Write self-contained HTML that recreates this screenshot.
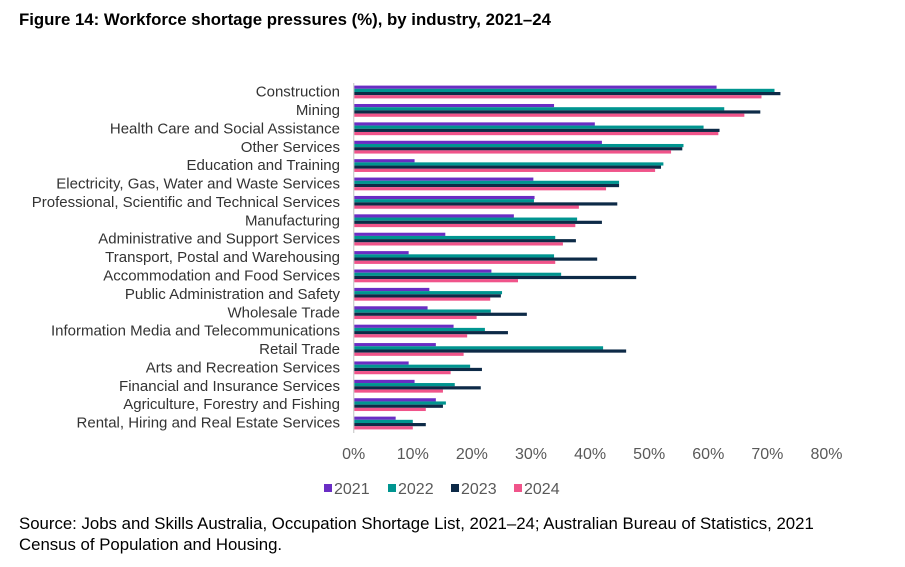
<!DOCTYPE html>
<html><head><meta charset="utf-8">
<style>
body{margin:0;background:#fff;font-family:"Liberation Sans",Arial,sans-serif;}
#wrap{position:relative;width:905px;height:567px;overflow:hidden;}
.title{position:absolute;left:19px;top:10px;font-size:16.8px;font-weight:bold;color:#000;}
.src{position:absolute;left:19px;top:513px;font-size:16.8px;line-height:21px;color:#000;}
</style></head><body>
<div id="wrap">
<div class="title">Figure 14: Workforce shortage pressures (%), by industry, 2021–24</div>
<svg id="chart" width="905" height="567" style="position:absolute;left:0;top:0"></svg>
<div class="src">Source: Jobs and Skills Australia, Occupation Shortage List, 2021–24; Australian Bureau of Statistics, 2021<br>Census of Population and Housing.</div>
</div>
<script>
const categories=["Construction","Mining","Health Care and Social Assistance","Other Services","Education and Training","Electricity, Gas, Water and Waste Services","Professional, Scientific and Technical Services","Manufacturing","Administrative and Support Services","Transport, Postal and Warehousing","Accommodation and Food Services","Public Administration and Safety","Wholesale Trade","Information Media and Telecommunications","Retail Trade","Arts and Recreation Services","Financial and Insurance Services","Agriculture, Forestry and Fishing","Rental, Hiring and Real Estate Services"];
const s2021=[61.4,33.9,40.8,42.0,10.3,30.4,30.6,27.1,15.5,9.3,23.3,12.8,12.5,16.9,13.9,9.3,10.3,13.9,7.1];
const s2022=[71.2,62.7,59.2,55.8,52.4,44.9,30.5,37.8,34.1,33.9,35.1,25.1,23.2,22.2,42.2,19.7,17.1,15.6,10.0];
const s2023=[72.2,68.8,61.9,55.6,52.0,44.9,44.6,42.0,37.6,41.2,47.8,24.9,29.3,26.1,46.1,21.7,21.5,15.1,12.2];
const s2024=[69.0,66.1,61.7,53.7,51.0,42.7,38.1,37.5,35.4,34.1,27.8,23.1,20.8,19.2,18.6,16.4,15.1,12.2,10.0];
const seriesNames=["2021","2022","2023","2024"];
const tickValues=[0,10,20,30,40,50,60,70,80];
const colors=["#6a2dc4","#009590","#0d2a47","#f0548a"];
const series=[s2021,s2022,s2023,s2024];
const NS="http://www.w3.org/2000/svg";
const svg=document.getElementById('chart');
const x0=353.7,pxPer=5.91;
const xScale=v=>x0+v*pxPer;
const gTop=85.6,gPitch=18.39,barH=3.2;
const yGroup=i=>gTop+i*gPitch;
function mk(t,a){const e=document.createElementNS(NS,t);for(const k in a)e.setAttribute(k,a[k]);svg.appendChild(e);return e;}
categories.forEach((c,i)=>{
  series.forEach((s,j)=>{
    const r=mk('rect',{x:x0,y:yGroup(i)+j*barH,width:Math.max(0,xScale(s[i])-x0),height:barH,fill:colors[j]});
    
    
  });
  const t=mk('text',{x:340,y:yGroup(i)+11,'text-anchor':'end','font-size':'15','fill':'#333','font-family':'Liberation Sans, Arial, sans-serif'});
  t.textContent=c;
  
  
});
const ax=mk('line',{x1:x0,x2:x0,y1:83,y2:433,stroke:'#d0d0d0','stroke-width':1.3});


tickValues.forEach(v=>{
  const t=mk('text',{x:xScale(v),y:459,'text-anchor':'middle','font-size':'16','fill':'#595959','font-family':'Liberation Sans, Arial, sans-serif'});
  t.textContent=v+'%';
  
  
});
const legX=[324,388,451,514];
seriesNames.forEach((n,j)=>{
  const r=mk('rect',{x:legX[j],y:484,width:8,height:8,fill:colors[j]});
  
  
  const t=mk('text',{x:legX[j]+10,y:494,'font-size':'16','fill':'#595959','font-family':'Liberation Sans, Arial, sans-serif'});
  t.textContent=n;
  
  
});
</script>
</body></html>
